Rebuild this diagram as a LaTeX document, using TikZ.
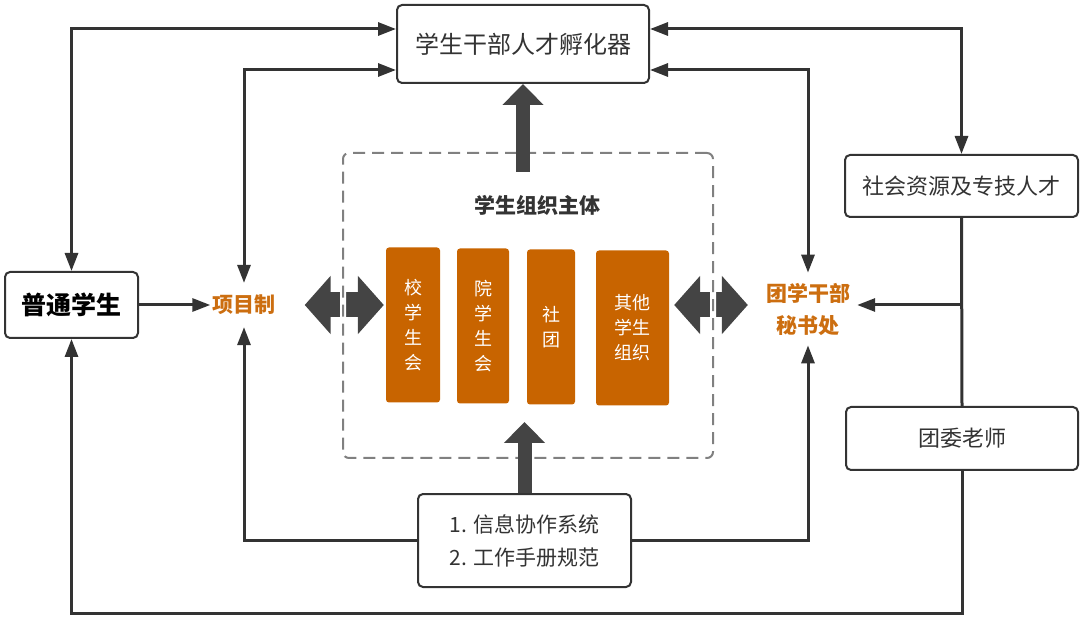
\documentclass[tikz,border=0pt]{standalone}
\usepackage{fontspec}
\setmainfont{Noto Sans CJK SC}
\usetikzlibrary{arrows.meta}
\definecolor{ink}{HTML}{333333}
\definecolor{rust}{HTML}{C86400}
\definecolor{rusttext}{HTML}{CC6E10}
\definecolor{framegray}{HTML}{808080}
\definecolor{slab}{HTML}{444444}
\tikzset{
  box/.style={draw=ink, line width=2pt, rounded corners=5pt, fill=white, text=ink, align=center},
  unit/.style={fill=rust, rounded corners=3pt, text=white, minimum height=155pt, align=center, font=\fontsize{18}{25}\selectfont},
  hot/.style={text=rusttext, font=\bfseries\fontsize{21}{32}\selectfont, align=center, inner xsep=2pt},
  link/.style={draw=ink, line width=3pt, -{Triangle[length=18pt,width=13pt]}},
  twoway/.style={link, {Triangle[length=18pt,width=13pt]}-{Triangle[length=18pt,width=13pt]}},
  fat/.style={draw=slab, line width=14pt, -{Triangle[length=21pt,width=40pt]}},
  fatboth/.style={draw=slab, line width=25pt, {Triangle[length=26pt,width=57pt]}-{Triangle[length=26pt,width=57pt]}},
  grp/.style={draw=framegray, line width=2pt, dash pattern=on 12pt off 7pt, rounded corners=6pt,
    preaction={draw=white, solid, line width=6pt}}
}

\begin{document}
\begin{tikzpicture}[x=1pt, y=-1pt]
\useasboundingbox (0,0) rectangle (1080,620);
\node[box, minimum width=252pt, minimum height=78pt, font=\fontsize{24}{28}\selectfont] (inc) at (523,44) {学生干部人才孵化器};
\node[box, minimum width=133pt, minimum height=66pt, text=black, font=\bfseries\fontsize{25}{30}\selectfont] (stu) at (71.5,305) {普通学生};
\node[hot, inner ysep=12pt] (proj) at (244,305) {项目制};
\node[hot, inner ysep=10pt] (tuan) at (808,309) {团学干部\\秘书处};
\node[box, minimum width=233pt, minimum height=62pt, font=\fontsize{22}{26}\selectfont] (soc) at (961.5,186) {社会资源及专技人才};
\node[box, minimum width=232pt, minimum height=63pt, font=\fontsize{22}{26}\selectfont] (teach) at (962,438.5) {团委老师};
\node[box, minimum width=213pt, minimum height=93pt, align=left, font=\fontsize{21}{33}\selectfont] (info) at (524.5,540.5) {1. 信息协作系统\\2. 工作手册规范};
\node[text=ink, font=\bfseries\fontsize{21}{25}\selectfont] (orgname) at (537,205) {学生组织主体};
\node[unit, minimum width=54pt] (xsh) at (413,325) {校\\学\\生\\会};
\node[unit, minimum width=52pt] (ysh) at (483,326) {院\\学\\生\\会};
\node[unit, minimum width=48pt] (club) at (551,327) {社\\团};
\node[unit, minimum width=73pt] (other) at (632.5,328) {其他\\学生\\组织};
\coordinate (base) at (0,613);
\coordinate (upa) at (523,172);
\coordinate (upb) at (523,422);
\draw[fatboth] ([xshift=27pt]proj.east) -- ([xshift=-2pt]xsh.west |- proj.east);
\draw[fatboth] ([xshift=5pt]other.east |- proj.east) -- ([xshift=-16pt]tuan.west |- proj.east);
\node[grp, minimum width=370pt, minimum height=305pt] (frame) at (528,305.5) {};
\draw[fat] (upa) -- (inc.south);
\draw[fat] (info.north) -- (info.north |- upb);
\draw[twoway] (stu.north) |- ([yshift=15pt]inc.west);
\draw[twoway] (proj.north) |- ([yshift=-26pt]inc.west);
\draw[twoway] ([yshift=15pt]inc.east) -| (soc.north);
\draw[twoway] ([yshift=-26pt]inc.east) -| (tuan.north);
\draw[link] (stu.east) -- (proj.west);
\draw[link] (info.west) -| (proj.south);
\draw[link] (info.east) -| (tuan.south);
\draw[draw=ink, line width=3pt] (soc.south) -- (teach.north);
\draw[link] (soc.south |- proj.east) -- ([xshift=5pt]tuan.east |- proj.east);
\draw[link] (teach.south) |- (base -| stu.south) -- (stu.south);
\end{tikzpicture}
\end{document}
